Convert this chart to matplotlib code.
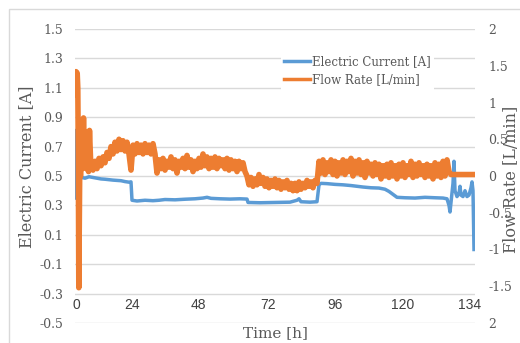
import matplotlib.pyplot as plt
import matplotlib.patches as mpatches
import numpy as np

# x positions are sample positions along Excel's category axis (0..400)
tick_pos = [1, 57, 123, 193, 260, 328, 395]
tick_labels = ["0", "24", "48", "72", "96", "120", "134"]

# electric current [A]
current_idx = [0.5, 1, 1.5, 2, 3, 4, 5, 7, 10, 14, 18, 22, 26, 30, 34, 38, 42, 46, 50, 54, 56,
               57, 62, 70, 78, 84, 90, 100, 110, 120, 128, 132, 136, 145, 155, 165, 172,
               173, 185, 200, 215, 222, 224, 226, 235, 242,
               244, 246, 252, 260, 268, 276, 282, 288, 296, 304, 310, 314, 318, 322, 330,
               340, 350, 360, 368, 372, 374, 375, 376, 378, 379, 380, 382, 384, 385, 386,
               388, 390, 392, 394, 396, 397, 398, 399]
current_a = [0.35, 0.81, 0.6, 0.36, 0.40, 0.47, 0.48, 0.49, 0.485, 0.495, 0.49, 0.485, 0.48,
             0.478, 0.475, 0.472, 0.47, 0.468, 0.462, 0.458, 0.46,
             0.335, 0.33, 0.335, 0.332, 0.335, 0.34, 0.338, 0.342, 0.345, 0.35, 0.355, 0.348,
             0.345, 0.343, 0.345, 0.343,
             0.32, 0.318, 0.32, 0.322, 0.335, 0.345, 0.325, 0.322, 0.325,
             0.44, 0.45, 0.448, 0.443, 0.44, 0.435, 0.43, 0.425, 0.42, 0.418, 0.41, 0.395,
             0.375, 0.355, 0.352, 0.35, 0.355, 0.352, 0.35, 0.345, 0.30, 0.255, 0.32, 0.45,
             0.6, 0.40, 0.36, 0.38, 0.43, 0.37, 0.36, 0.40, 0.36, 0.37, 0.42, 0.46, 0.40, 0.0]

# flow rate [L/min]: start transient, then regular samples
flow_start_idx = [0.3, 1.0, 1.6, 2.2, 2.8, 3.3, 3.8, 4.3, 4.8, 5.5, 6.5, 7.5, 8.5, 9.5,
                  10.5, 11.5, 12.5, 13.5, 14.5, 15.5, 16.5]
flow_start = [1.1, 1.42, 1.25, 1.4, 1.2, 0.3, -1.52, -0.6, 0.2, 0.0, 0.3, 0.1, 0.79, 0.2,
              0.6, 0.1, 0.2, 0.06, 0.62, 0.25, 0.1]
flow_main = [
    0.08, 0.2, 0.1, 0.24, 0.14, 0.26, 0.18, 0.32, 0.24, 0.4, 0.3, 0.46, 0.34, 0.5,
    0.36, 0.48, 0.34, 0.46, 0.3, 0.08,
    0.42, 0.3, 0.44, 0.32, 0.42, 0.3, 0.44, 0.32, 0.42, 0.3, 0.44, 0.3,
    0.04, 0.22, 0.1, 0.24, 0.08, 0.2, 0.12, 0.26, 0.1, 0.22, 0.04, 0.2, 0.12, 0.24, 0.1,
    0.28, 0.12, 0.22, 0.06, 0.2, 0.1, 0.24, 0.12, 0.3, 0.14, 0.26, 0.1, 0.24, 0.12, 0.26,
    0.1, 0.24, 0.14, 0.22, 0.1, 0.24, 0.08, 0.22, 0.1, 0.2, 0.06, 0.2, 0.1, 0.18, 0.06,
    0.0, -0.12, -0.02, -0.14, -0.04, -0.12, 0.02, -0.1, -0.02, -0.14, -0.04, -0.16, -0.06,
    -0.14, -0.04, -0.16, -0.06, -0.18, -0.08, -0.16, -0.06, -0.18, -0.1, -0.2, -0.1, -0.2,
    -0.08, -0.18, -0.1, -0.16, -0.06, -0.14, -0.08, -0.16, -0.06, -0.1,
    0.2, 0.04, 0.22, 0.02, 0.18, 0.06, 0.22, 0.02, 0.2, 0.0, 0.18, 0.04, 0.22, 0.02, 0.2,
    0.06, 0.24, 0.0, 0.2, 0.04, 0.22, 0.02, 0.18, -0.02, 0.2, 0.04, 0.16, 0.0, 0.18, 0.02,
    0.16, -0.04, 0.14, 0.0, 0.16, -0.02, 0.18, 0.0, 0.14, -0.04, 0.16, 0.0, 0.18, -0.02,
    0.14, 0.02, 0.2, -0.02, 0.16, 0.0, 0.18, 0.02, 0.14, -0.02, 0.16, 0.0, 0.14, -0.04,
    0.18, 0.0, 0.16, -0.02, 0.2, 0.0, 0.22,
    0.06, 0.02,
]
flow_main_idx = list(np.arange(18, 18 + 2 * len(flow_main), 2))
flow_idx = flow_start_idx + flow_main_idx + [399]
flow_lpm = flow_start + flow_main + [0.02]

BLUE = "#5b9bd5"
ORANGE = "#ed7d31"
GRID = "#d9d9d9"
TXT = "#595959"
SERIF = "DejaVu Serif"

fig = plt.figure(figsize=(5.2, 3.43), dpi=100)
fig.patches.append(mpatches.Rectangle((9 / 520, -0.1), 1.2, 1.1 - 9 / 343,
                                      transform=fig.transFigure, fill=False,
                                      edgecolor=GRID, lw=1))
ax = fig.add_axes([75 / 520, 20 / 343, 400 / 520, 294 / 343])
ax2 = ax.twinx()

l1, = ax.plot(current_idx, current_a, color=BLUE, lw=2.5, label="Electric Current [A]")
l2, = ax2.plot(flow_idx, flow_lpm, color=ORANGE, lw=4.0, label="Flow Rate [L/min]")

ax.set_xlim(0, 400)
ax.set_ylim(-0.5, 1.5)
ax2.set_ylim(-2, 2)
ax.set_yticks(np.arange(-0.5, 1.51, 0.2))
ax.set_yticklabels([f"{v:.1f}" for v in np.arange(-0.5, 1.51, 0.2)])
ax2.set_yticks(np.arange(-2, 2.01, 0.5))
ax2.set_yticklabels(["2", "-1.5", "-1", "-0.5", "0", "0.5", "1", "1.5", "2"])
ax.grid(axis="y", color=GRID, lw=1)
ax.set_axisbelow(True)
ax.set_xticks(tick_pos)
ax.set_xticklabels(tick_labels, fontfamily="Liberation Sans", fontsize=10, color="#404040")
ax.tick_params(axis="x", length=0, pad=-18)
ax.tick_params(axis="y", length=0, pad=8.5, labelcolor=TXT, labelsize=9)
ax2.tick_params(axis="y", length=0, pad=9.5, labelcolor=TXT, labelsize=9)
for lab in ax.get_yticklabels() + ax2.get_yticklabels():
    lab.set_fontfamily(SERIF)
for a in (ax, ax2):
    for s in a.spines.values():
        s.set_visible(False)

leg = ax2.legend(handles=[l1, l2], loc="upper left", bbox_to_anchor=(275 / 520, 1 - 46 / 343),
                 bbox_transform=fig.transFigure, frameon=True, fancybox=False,
                 edgecolor="none", framealpha=1, handlelength=2.2, handletextpad=0.1,
                 borderpad=0.3, labelspacing=0.4, prop={"family": SERIF, "size": 8.5})
for t in leg.get_texts():
    t.set_color(TXT)
for h in leg.get_lines():
    h.set_linewidth(2.5)

fig.text(27 / 520, 1 - 167 / 343, "Electric Current [A]", rotation=90, ha="center",
         va="center", fontfamily=SERIF, fontsize=11.5, color=TXT)
fig.text(512 / 520, 1 - 179 / 343, "Flow Rate [L/min]", rotation=90, ha="center",
         va="center", fontfamily=SERIF, fontsize=11.5, color=TXT)
fig.text(275 / 520, 1 - 326 / 343, "Time [h]", ha="center", va="top",
         fontfamily=SERIF, fontsize=11, color=TXT)

fig.savefig("out.png", dpi=100)
